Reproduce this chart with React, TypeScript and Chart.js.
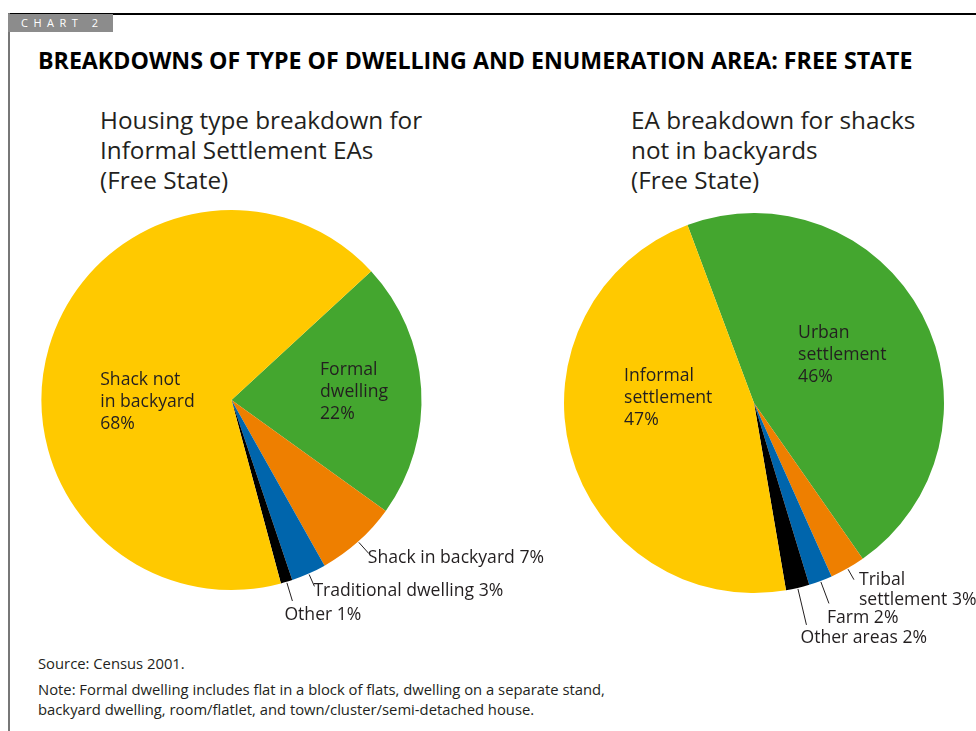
import React, { useEffect, useRef } from 'react';
import { Chart, registerables } from 'chart.js';
Chart.register(...registerables);

// ---------- Data ----------
const housingCategories = ['Formal dwelling', 'Shack in backyard', 'Traditional dwelling', 'Other', 'Shack not in backyard'];
const housingValues = [22, 7, 3, 1, 68];
const housingLabels = [
  ['Formal', 'dwelling', '22%'],
  ['Shack in backyard 7%'],
  ['Traditional dwelling 3%'],
  ['Other 1%'],
  ['Shack not', 'in backyard', '68%'],
];

const eaCategories = ['Urban settlement', 'Tribal settlement', 'Farm', 'Other areas', 'Informal settlement'];
const eaValues = [46, 3, 2, 2, 47];
const eaLabels = [
  ['Urban', 'settlement', '46%'],
  ['Tribal', 'settlement 3%'],
  ['Farm 2%'],
  ['Other areas 2%'],
  ['Informal', 'settlement', '47%'],
];

// ---------- Styles ----------
const YELLOW = '#FFC900';
const GREEN = '#44A62F';
const ORANGE = '#EE7F00';
const BLUE = '#0065AC';
const BLACK = '#000000';
const sliceColors = [GREEN, ORANGE, BLUE, BLACK, YELLOW];
const FONT = '"Open Sans", "Noto Sans", sans-serif';

type Place = { inside?: boolean; fx?: number; fy?: number; lead?: number; dx?: number; dy?: number };

const housingPlacement: Place[] = [
  { inside: true, fx: 0.466, fy: -0.16 },
  { lead: 16, dx: -1, dy: 4 },
  { lead: 14, dx: -1, dy: 5 },
  { lead: 20, dx: -8, dy: 14 },
  { inside: true, fx: -0.691, fy: -0.107 },
];
const eaPlacement: Place[] = [
  { inside: true, fx: 0.232, fy: -0.37 },
  { lead: 13, dx: 5, dy: 0 },
  { lead: 24, dx: -2, dy: 15 },
  { lead: 38, dx: -6, dy: 13 },
  { inside: true, fx: -0.684, fy: -0.14 },
];

const sliceLabelPlugin = {
  id: 'sliceLabels',
  afterDatasetsDraw(chart: any, _args: any, opts: any) {
    const ctx: CanvasRenderingContext2D = chart.ctx;
    const meta = chart.getDatasetMeta(0);
    const texts: string[][] = opts.texts;
    const places: Place[] = opts.places;
    const lh = 22;
    ctx.save();
    ctx.font = `17.6px ${FONT}`;
    ctx.fillStyle = '#231f20';
    ctx.strokeStyle = '#231f20';
    ctx.lineWidth = 1;
    ctx.textAlign = 'left';
    ctx.textBaseline = 'middle';
    meta.data.forEach((arc: any, i: number) => {
      const p = arc.getProps(['x', 'y', 'startAngle', 'endAngle', 'outerRadius'], true);
      const pl = places[i];
      const lines = texts[i];
      if (pl.inside) {
        const tx = p.x + (pl.fx as number) * p.outerRadius;
        const ty = p.y + (pl.fy as number) * p.outerRadius;
        lines.forEach((t, k) => ctx.fillText(t, tx, ty + k * lh));
      } else {
        const mid = (p.startAngle + p.endAngle) / 2;
        const r0 = p.outerRadius + 1;
        const r1 = p.outerRadius + (pl.lead as number);
        const x0 = p.x + Math.cos(mid) * r0;
        const y0 = p.y + Math.sin(mid) * r0;
        const x1 = p.x + Math.cos(mid) * r1;
        const y1 = p.y + Math.sin(mid) * r1;
        ctx.beginPath();
        ctx.moveTo(x0, y0);
        ctx.lineTo(x1, y1);
        ctx.stroke();
        const tx = x1 + (pl.dx as number);
        const ty = y1 + (pl.dy as number);
        lines.forEach((t, k) => ctx.fillText(t, tx, ty + k * 20));
      }
    });
    ctx.restore();
  },
};

function PieChart(props: {
  categories: string[];
  values: number[];
  texts: string[][];
  places: Place[];
  rotation: number;
  width: number;
  height: number;
  padding: { left: number; right: number; top: number; bottom: number };
  style: React.CSSProperties;
}) {
  const ref = useRef<HTMLCanvasElement>(null);
  useEffect(() => {
    if (!ref.current) return;
    const chart = new Chart(ref.current, {
      type: 'pie',
      data: {
        labels: props.categories,
        datasets: [
          {
            data: props.values,
            backgroundColor: sliceColors,
            borderWidth: 0,
          },
        ],
      },
      options: {
        responsive: false,
        animation: false,
        events: [],
        rotation: props.rotation,
        layout: { padding: props.padding },
        plugins: {
          legend: { display: false },
          tooltip: { enabled: false },
          sliceLabels: { texts: props.texts, places: props.places },
        } as any,
      },
      plugins: [sliceLabelPlugin],
    });
    return () => chart.destroy();
  }, []);
  return <canvas ref={ref} width={props.width} height={props.height} style={{ position: 'absolute', ...props.style }} />;
}

export default function App() {
  const subStyle: React.CSSProperties = {
    position: 'absolute',
    fontFamily: FONT,
    fontSize: 24.3,
    lineHeight: '30px',
    color: '#231f20',
    margin: 0,
    whiteSpace: 'nowrap',
  };
  return (
    <div style={{ position: 'absolute', left: 0, top: 0, width: 976, height: 731, background: '#fff', overflow: 'hidden', fontFamily: FONT }}>
      {/* frame */}
      <div style={{ position: 'absolute', left: 8, top: 13, width: 968, height: 1.5, background: '#000' }} />
      <div style={{ position: 'absolute', left: 8, top: 13, width: 1.5, height: 718, background: '#777' }} />
      <div
        style={{
          position: 'absolute', left: 8, top: 14, width: 105, height: 18, background: '#8c8c8c',
          color: '#fff', fontSize: 11, lineHeight: '18px', letterSpacing: 5.5, paddingLeft: 13, boxSizing: 'border-box',
        }}
      >
        CHART 2
      </div>
      <div style={{ position: 'absolute', left: 38, top: 44, fontSize: 23.2, lineHeight: '32px', fontWeight: 700, color: '#000', whiteSpace: 'nowrap' }}>
        BREAKDOWNS OF TYPE OF DWELLING AND ENUMERATION AREA: FREE STATE
      </div>
      <div style={{ ...subStyle, left: 100, top: 105 }}>
        Housing type breakdown for<br />Informal Settlement EAs<br />(Free State)
      </div>
      <div style={{ ...subStyle, left: 631, top: 105 }}>
        EA breakdown for shacks<br />not in backyards<br />(Free State)
      </div>

      <PieChart
        categories={housingCategories}
        values={housingValues}
        texts={housingLabels}
        places={housingPlacement}
        rotation={47.3}
        width={530}
        height={450}
        padding={{ left: 11, top: 10, right: 138, bottom: 60 }}
        style={{ left: 30, top: 200 }}
      />
      <PieChart
        categories={eaCategories}
        values={eaValues}
        texts={eaLabels}
        places={eaPlacement}
        rotation={-20.5}
        width={431}
        height={450}
        padding={{ left: 19, top: 13, right: 32, bottom: 57 }}
        style={{ left: 545, top: 200 }}
      />

      <div style={{ position: 'absolute', left: 38, top: 653, fontSize: 14.8, lineHeight: '20px', color: '#231f20', whiteSpace: 'nowrap' }}>
        <div>Source: Census 2001.</div>
        <div style={{ marginTop: 6 }}>
          Note: Formal dwelling includes flat in a block of flats, dwelling on a separate stand,<br />
          backyard dwelling, room/flatlet, and town/cluster/semi-detached house.
        </div>
      </div>
    </div>
  );
}
